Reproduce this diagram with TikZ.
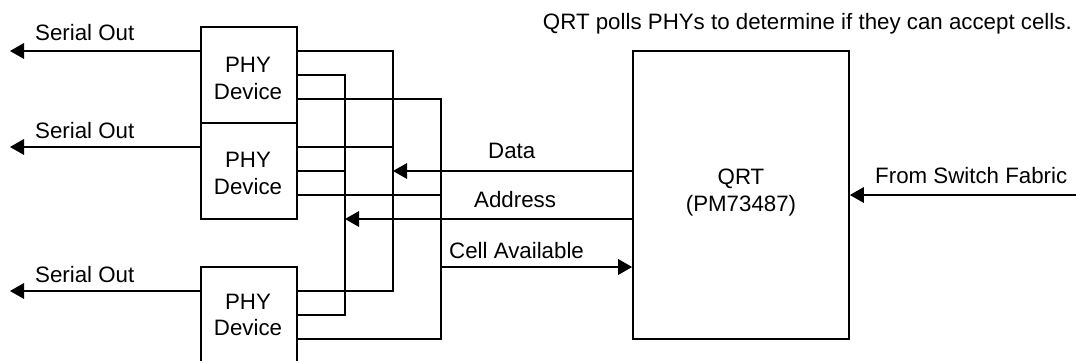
\documentclass[tikz,border=0pt]{standalone}
\usepackage{fontspec}
\setmainfont{Liberation Sans}
\usetikzlibrary{arrows.meta}
\newcommand{\dropline}[1]{\rule{0pt}{#1pt}}
\tikzset{
  box/.style={draw=black,line width=1.7pt,fill=none,align=center,inner sep=0pt,font=\fontsize{22.3}{26.5}\selectfont},
  wire/.style={draw=black,line width=1.7pt},
  arrowwire/.style={wire,-{Triangle[length=14pt,width=15.5pt]}},
  lbl/.style={inner sep=0pt,font=\fontsize{22.3}{27}\selectfont,anchor=base west}
}
\begin{document}
\begin{tikzpicture}[x=1pt,y=-1pt]
\useasboundingbox (0,0) rectangle (1076,360);
\begin{scope}
\clip (0,0) rectangle (1076,360);
\node[box,minimum width=96pt,minimum height=96pt] (p1) at (249,75) {\dropline{22}\hspace*{-2pt}PHY\\\hspace*{-2pt}Device};
\node[box,minimum width=96pt,minimum height=96pt] (p2) at (249,171) {\dropline{20}\hspace*{-2pt}PHY\\\hspace*{-2pt}Device};
\node[box,minimum width=96pt,minimum height=96pt] (p3) at (249,315) {\hspace*{-2pt}PHY\\\hspace*{-2pt}Device};
\node[box,minimum width=216pt,minimum height=288pt] (q) at (741,195) {QRT\\(PM73487)\rule[-10pt]{0pt}{10pt}};
\end{scope}
% free ends and junctions
\coordinate (s1) at (10,51);
\coordinate (s2) at (10,147);
\coordinate (s3) at (10,291);
\coordinate (f) at (1076,195);
\coordinate (jd) at (393,171);
\coordinate (ja) at (345,219);
\coordinate (jc) at (441,267);
% serial outs
\draw[arrowwire] (p1.west |- s1) -- (s1);
\draw[arrowwire] (p2.west |- s2) -- (s2);
\draw[arrowwire] (p3.west |- s3) -- (s3);
% data bus
\draw[wire] (p1.east |- 0,51) -| (jd) |- (p3.east |- 0,291);
\draw[wire] (p2.east |- 0,147) -| (jd);
% address bus
\draw[wire] (p1.east |- 0,75) -| (ja) |- (p3.east |- 0,315);
\draw[wire] (p2.east |- 0,171) -- (ja |- 0,171);
% cell available bus
\draw[wire] (p1.east |- 0,99) -| (jc) |- (p3.east |- 0,339);
\draw[wire] (p2.east |- 0,195) -- (jc |- 0,195);
% QRT connections
\draw[arrowwire] (q.west |- jd) -- (jd);
\draw[arrowwire] (q.west |- ja) -- (ja);
\draw[arrowwire] (jc) -- (q.west |- jc);
\draw[arrowwire] (f) -- (q.east |- f);
% labels
\node[lbl] (l1) at (35,40.5) {Serial Out};
\node[lbl] (l2) at (35,138.3) {Serial Out};
\node[lbl] (l3) at (35,282) {Serial Out};
\node[lbl] (l4) at (488,158) {Data};
\node[lbl] (l5) at (474,207.5) {Address};
\node[lbl] (l6) at (449,258) {Cell Available};
\node[lbl] (l7) at (875,183) {From Switch Fabric};
\node[lbl,anchor=base east] (l8) at (1072,29.5) {QRT polls PHYs to determine if they can accept cells.};
\end{tikzpicture}
\end{document}
